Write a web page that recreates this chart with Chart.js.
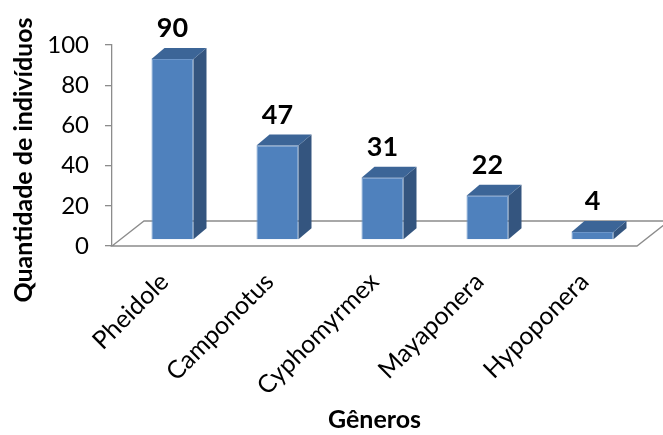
<!DOCTYPE html>
<html>
<head>
<meta charset="utf-8">
<script src="https://cdn.jsdelivr.net/npm/chart.js@4.4.1/dist/chart.umd.min.js"></script>
<style>
  html, body { margin: 0; padding: 0; background: #ffffff; }
  canvas { display: block; }
</style>
</head>
<body>
<canvas id="chart" width="663" height="435"></canvas>
<script>
// Data
const generos = ['Pheidole', 'Camponotus', 'Cyphomyrmex', 'Mayaponera', 'Hypoponera'];
const individuos = [90, 47, 31, 22, 4];
const yTickValues = [0, 20, 40, 60, 80, 100];
const xAxisTitle = 'Gêneros';
const yAxisTitle = 'Quantidade de indivíduos';

// 3D geometry (pixels)
const FLOOR_DX = 32, FLOOR_DY = 25;     // depth of the floor plane
const BAR_SHIFT_X = 8, BAR_SHIFT_Y = 6; // bars sit a little behind the front edge
const BAR_DX = 13, BAR_DY = 11;         // depth of each bar

const FRONT = '#4F81BD';
const SIDE = '#34557F';
const TOP = '#3C6597';
const AXIS_GRAY = '#8C8C8C';

const floorPlugin = {
  id: 'floor3d',
  beforeDatasetsDraw(chart) {
    const { ctx, chartArea, scales } = chart;
    const y0 = scales.y.getPixelForValue(0);
    const l = chartArea.left, r = chartArea.right;
    ctx.save();
    ctx.strokeStyle = AXIS_GRAY;
    ctx.lineWidth = 1.3;
    ctx.beginPath();
    ctx.moveTo(l, y0);
    ctx.lineTo(l + FLOOR_DX, y0 - FLOOR_DY);
    ctx.lineTo(r + FLOOR_DX, y0 - FLOOR_DY);
    ctx.lineTo(r, y0);
    ctx.closePath();
    ctx.stroke();
    ctx.restore();
  }
};

const bars3dPlugin = {
  id: 'bars3d',
  beforeDatasetDraw(chart) {
    chart.ctx.save();
    chart.ctx.translate(BAR_SHIFT_X, -BAR_SHIFT_Y);
  },
  afterDatasetDraw(chart, args) {
    const ctx = chart.ctx;
    args.meta.data.forEach((bar) => {
      const { x, y, base, width } = bar.getProps(['x', 'y', 'base', 'width'], true);
      const xl = x - width / 2, xr = x + width / 2;
      // side face
      ctx.fillStyle = SIDE;
      ctx.beginPath();
      ctx.moveTo(xr, y);
      ctx.lineTo(xr + BAR_DX, y - BAR_DY);
      ctx.lineTo(xr + BAR_DX, base - BAR_DY);
      ctx.lineTo(xr, base);
      ctx.closePath();
      ctx.fill();
      // top face
      ctx.fillStyle = TOP;
      ctx.beginPath();
      ctx.moveTo(xl, y);
      ctx.lineTo(xl + BAR_DX, y - BAR_DY);
      ctx.lineTo(xr + BAR_DX, y - BAR_DY);
      ctx.lineTo(xr, y);
      ctx.closePath();
      ctx.fill();
    });
    ctx.restore();
  },
  afterDatasetsDraw(chart) {
    const ctx = chart.ctx;
    const meta = chart.getDatasetMeta(0);
    ctx.save();
    ctx.font = 'bold 27px Lato';
    ctx.fillStyle = '#000000';
    ctx.textAlign = 'center';
    ctx.textBaseline = 'alphabetic';
    meta.data.forEach((bar, i) => {
      const { x, y } = bar.getProps(['x', 'y'], true);
      ctx.fillText(String(individuos[i]), x + BAR_SHIFT_X, y - BAR_SHIFT_Y - BAR_DY - 11);
    });
    ctx.restore();
  }
};

const yTitlePlugin = {
  id: 'yTitle',
  afterDraw(chart) {
    const ctx = chart.ctx;
    ctx.save();
    ctx.translate(24, 160);
    ctx.rotate(-Math.PI / 2);
    ctx.font = 'bold 25px Lato';
    ctx.fillStyle = '#000000';
    ctx.textAlign = 'center';
    ctx.textBaseline = 'middle';
    ctx.fillText(yAxisTitle, 0, 0);
    ctx.restore();
  }
};

new Chart(document.getElementById('chart'), {
  type: 'bar',
  data: {
    labels: generos,
    datasets: [{
      data: individuos,
      backgroundColor: FRONT,
      borderColor: '#6C96CA',
      borderWidth: 1,
      categoryPercentage: 1,
      barPercentage: 0.4
    }]
  },
  options: {
    responsive: false,
    animation: false,
    devicePixelRatio: 1,
    layout: { padding: { top: 45, right: 26, left: 0, bottom: 0 } },
    plugins: {
      legend: { display: false },
      tooltip: { enabled: false }
    },
    scales: {
      x: {
        grid: { display: false },
        border: { display: false },
        ticks: {
          minRotation: 45,
          maxRotation: 45,
          padding: 13,
          color: '#000000',
          font: { family: 'Lato', size: 25 }
        },
        title: {
          display: true,
          text: xAxisTitle,
          color: '#000000',
          font: { family: 'Lato', size: 25, weight: 'bold' },
          padding: { top: 0, bottom: 0 }
        },
        afterFit(scale) { scale.height = 189; }
      },
      y: {
        min: 0,
        max: 100,
        afterBuildTicks(scale) { scale.ticks = yTickValues.map(v => ({ value: v })); },
        grid: { drawOnChartArea: false, drawTicks: true, tickLength: 7, color: AXIS_GRAY, lineWidth: 1.3 },
        border: { display: true, color: AXIS_GRAY, width: 1.3 },
        ticks: {
          padding: 16,
          color: '#000000',
          font: { family: 'Lato', size: 24 }
        },
        afterFit(scale) { scale.width = 112; }
      }
    }
  },
  plugins: [floorPlugin, bars3dPlugin, yTitlePlugin]
});
</script>
</body>
</html>
